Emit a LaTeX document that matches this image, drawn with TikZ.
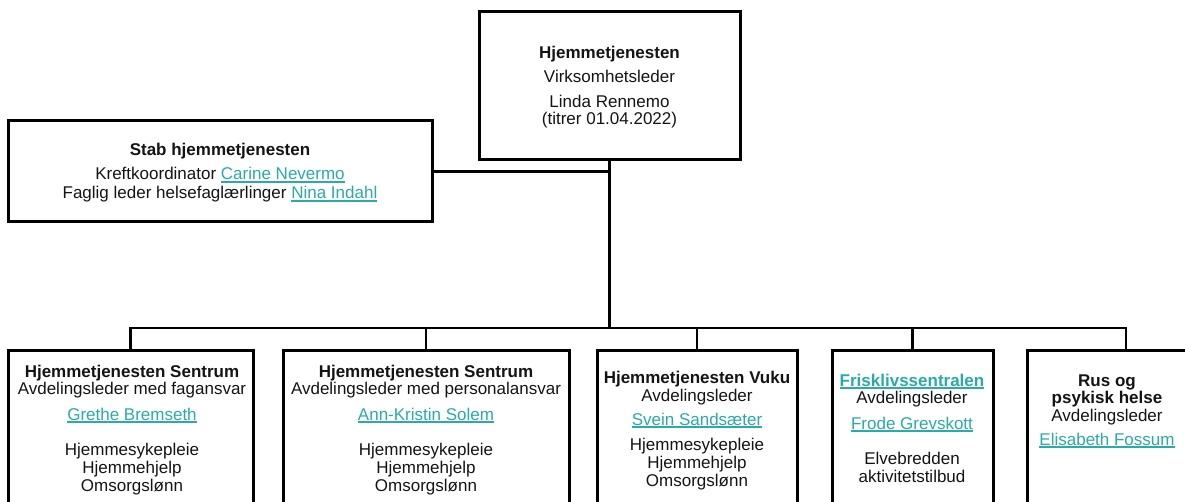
\documentclass[tikz,border=0pt]{standalone}
\usepackage{fontspec}
\setmainfont{Liberation Sans}
\usetikzlibrary{calc}
\definecolor{lk}{RGB}{42,170,168}
\definecolor{ink}{RGB}{20,20,20}
\newcommand\lnk[1]{\textcolor{lk}{\setbox0\hbox{#1}\rlap{\rule[-2.6pt]{\wd0}{1.3pt}}\box0}}
\tikzset{
  box/.style={draw=black, line width=3pt, anchor=north west, inner sep=0pt, outer sep=0pt, line join=miter},
  conn/.style={draw=black, line width=2.9pt, line join=miter},
  txt/.style={anchor=base, inner sep=0pt, text=ink, font=\fontsize{17}{18}\selectfont}
}
\begin{document}
\begin{tikzpicture}[x=1pt,y=-1pt]
\path[use as bounding box] (0,0) rectangle (1185,502);
\clip (0,0) rectangle (1185,502);
\fill[white] (0,0) rectangle (1185,502);

% boxes
\node[box, minimum width=261pt, minimum height=148pt] (top) at (479,12) {};
\node[box, minimum width=424pt, minimum height=101pt] (stab) at (8,121) {};
\node[box, minimum width=245pt, minimum height=200pt] (b1) at (8,350) {};
\node[box, minimum width=286pt, minimum height=200pt] (b2) at (283,350) {};
\node[box, minimum width=200pt, minimum height=200pt] (b3) at (597,350) {};
\node[box, minimum width=161pt, minimum height=200pt] (b4) at (832,350) {};
\node[box, minimum width=161pt, minimum height=200pt] (b5) at (1027,350) {};

% connectors
\coordinate (bus) at (top.south |- 0,328);
\coordinate (d5) at (1126,350);
\draw[conn] (top.south) -- (bus);
\draw[conn] (stab.east) -- (stab.east -| top.south);
\draw[conn] (b1.north) -- (b1.north |- bus) -- (d5 |- bus) -- (d5);
\draw[conn] (b2.north |- bus) -- (b2.north);
\draw[conn] (b3.north |- bus) -- (b3.north);
\draw[conn] (b4.north |- bus) -- (b4.north);

% top box text
\node[txt] (t1) at (609.5,59) {\bfseries Hjemmetjenesten};
\node[txt] (t2) at (609.5,83) {Virksomhetsleder};
\node[txt] (t3) at (609.5,108) {Linda Rennemo};
\node[txt] (t4) at (609.5,125) {(titrer 01.04.2022)};

% stab text
\node[txt] (s1) at (220,156) {\bfseries Stab hjemmetjenesten};
\node[txt] (s2) at (220,180) {Kreftkoordinator \lnk{Carine Nevermo}};
\node[txt] (s3) at (220,199) {Faglig leder helsefaglærlinger \lnk{Nina Indahl}};

% box 1
\node[txt] (a1) at (132,377) {\bfseries Hjemmetjenesten Sentrum};
\node[txt] (a2) at (132,394) {Avdelingsleder med fagansvar};
\node[txt] (a3) at (132,420) {\lnk{Grethe Bremseth}};
\node[txt] (a4) at (132,455) {Hjemmesykepleie};
\node[txt] (a5) at (132,473) {Hjemmehjelp};
\node[txt] (a6) at (132,491) {Omsorgslønn};

% box 2
\node[txt] (c1) at (426,377) {\bfseries Hjemmetjenesten Sentrum};
\node[txt] (c2) at (426,394) {Avdelingsleder med personalansvar};
\node[txt] (c3) at (426,420) {\lnk{Ann-Kristin Solem}};
\node[txt] (c4) at (426,455) {Hjemmesykepleie};
\node[txt] (c5) at (426,473) {Hjemmehjelp};
\node[txt] (c6) at (426,491) {Omsorgslønn};

% box 3
\node[txt] (v1) at (697,383) {\bfseries Hjemmetjenesten Vuku};
\node[txt] (v2) at (697,401) {Avdelingsleder};
\node[txt] (v3) at (697,425) {\lnk{Svein Sandsæter}};
\node[txt] (v4) at (697,450) {Hjemmesykepleie};
\node[txt] (v5) at (697,468) {Hjemmehjelp};
\node[txt] (v6) at (697,486) {Omsorgslønn};

% box 4
\node[txt] (f1) at (912,386) {\bfseries\lnk{Frisklivssentralen}};
\node[txt] (f2) at (912,403) {Avdelingsleder};
\node[txt] (f3) at (912,429) {\lnk{Frode Grevskott}};
\node[txt] (f4) at (912,464) {Elvebredden};
\node[txt] (f5) at (912,482) {aktivitetstilbud};

% box 5
\node[txt] (r1) at (1107,386) {\bfseries Rus og};
\node[txt] (r2) at (1107,403) {\bfseries psykisk helse};
\node[txt] (r3) at (1107,421) {Avdelingsleder};
\node[txt] (r4) at (1107,445) {\lnk{Elisabeth Fossum}};
\end{tikzpicture}
\end{document}
